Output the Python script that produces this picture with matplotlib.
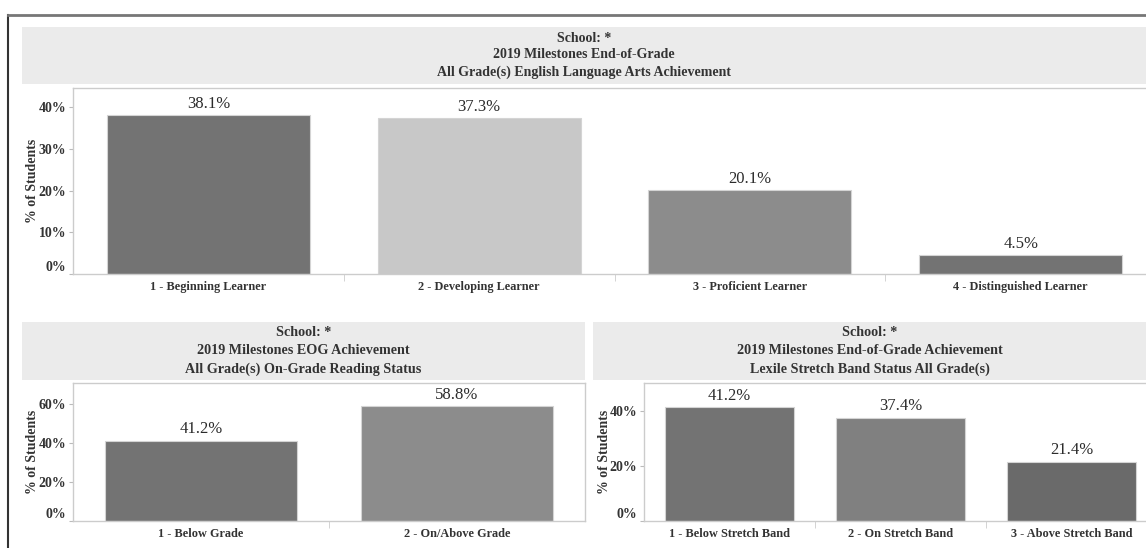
"""Recreate the 2019 Milestones achievement dashboard (three bar panels)."""

import matplotlib
matplotlib.use("Agg")
import matplotlib.pyplot as plt
import matplotlib.patches as patches
from matplotlib.ticker import FixedLocator

# ---- data ----
ela_levels = ["1 - Beginning Learner", "2 - Developing Learner",
              "3 - Proficient Learner", "4 - Distinguished Learner"]
ela_pct = [38.1, 37.3, 20.1, 4.5]
ela_colors = ["#737373", "#c8c8c8", "#8c8c8c", "#737373"]
ela_title = ["School: *", "2019 Milestones End-of-Grade",
             "All Grade(s) English Language Arts Achievement"]

reading_status = ["1 - Below Grade", "2 - On/Above Grade"]
reading_pct = [41.2, 58.8]
reading_colors = ["#737373", "#8c8c8c"]
reading_title = ["School: *", "2019 Milestones EOG Achievement",
                 "All Grade(s) On-Grade Reading Status"]

lexile_status = ["1 - Below Stretch Band", "2 - On Stretch Band", "3 - Above Stretch Band"]
lexile_pct = [41.2, 37.4, 21.4]
lexile_colors = ["#737373", "#808080", "#6a6a6a"]
lexile_title = ["School: *", "2019 Milestones End-of-Grade Achievement",
                "Lexile Stretch Band Status All Grade(s)"]

W, H = 1146, 548
FONT = "Liberation Serif"
plt.rcParams["font.family"] = [FONT, "DejaVu Serif"]

fig = plt.figure(figsize=(W / 100, H / 100), dpi=100)


def frac(left, top, right, bottom):
    """pixel box -> figure fraction [x, y, w, h]"""
    return [left / W, 1 - bottom / H, (right - left) / W, (bottom - top) / H]


def band(left, top, right, bottom, lines, size, y_lines):
    rect = patches.Rectangle((left / W, 1 - bottom / H), (right - left) / W,
                             (bottom - top) / H, transform=fig.transFigure,
                             facecolor="#ebebeb", edgecolor="none", zorder=0)
    fig.add_artist(rect)
    cx = (left + min(right, W)) / 2
    for txt, yy in zip(lines, y_lines):
        fig.text(cx / W, 1 - yy / H, txt, ha="center", va="center",
                 fontsize=size, fontweight="bold", color="#333333")


def panel(box, cats, vals, colors, ymax, ticks, xmax_frac, ylab_x):
    ax = fig.add_axes(frac(*box))
    n = len(cats)
    x = list(range(n))
    ax.bar(x, vals, width=0.75, color=colors, edgecolor="#d4d4d4", linewidth=0.8, zorder=2)
    for xi, v in zip(x, vals):
        ax.annotate(f"{v:.1f}%", (xi, v), xytext=(0, 2.5), textcoords="offset points",
                    ha="center", va="bottom", fontsize=12, color="#2b2b2b")
    ax.set_xlim(-0.5, n - 0.5 - xmax_frac)
    ax.set_ylim(0, ymax)
    ax.set_xticks(x)
    ax.set_xticklabels(cats, fontsize=8.8, fontweight="bold", color="#333333")
    ax.tick_params(axis="x", length=0, pad=5)
    ax.xaxis.set_minor_locator(FixedLocator([i + 0.5 for i in range(n - 1)]))
    ax.tick_params(axis="x", which="minor", length=5, color="#cccccc")
    ax.set_yticks(ticks)
    ax.set_yticklabels([f"{t}%" for t in ticks], fontsize=10, fontweight="bold", color="#333333")
    ax.get_yticklabels()[0].set_va("bottom")
    ax.tick_params(axis="y", length=3, color="#bbbbbb", pad=2)
    for s in ax.spines.values():
        s.set_color("#cccccc")
        s.set_linewidth(1.0)
    ax.spines["right"].set_visible(xmax_frac <= 0)
    fig.text(ylab_x / W, 1 - (box[1] + box[3]) / 2 / H, "% of Students", rotation=90,
             ha="center", va="center", fontsize=10, fontweight="bold", color="#333333")
    return ax


# top panel: ELA achievement
band(22, 27, W, 84, ela_title, 10, [38, 55, 72])
panel((73, 88, W, 274), ela_levels, ela_pct, ela_colors, 44.6, [0, 10, 20, 30, 40],
      (1156 - W) / 270, 32)

# bottom left: on-grade reading
band(22, 322, 585, 380, reading_title, 10.2, [333, 351, 369])
panel((73, 383, 585, 521), reading_status, reading_pct, reading_colors, 70.8, [0, 20, 40, 60],
      0, 32)

# bottom right: lexile stretch band
band(593, 322, W, 380, lexile_title, 10.2, [333, 351, 369])
panel((644, 383, W, 521), lexile_status, lexile_pct, lexile_colors, 50, [0, 20, 40],
      (1157 - W) / 171, 605)

# outer frame lines (left and top)
fig.add_artist(plt.Line2D([8 / W, 8 / W], [0, 1 - 15 / H], transform=fig.transFigure,
                          color="#333333", linewidth=1.5))
fig.add_artist(plt.Line2D([8 / W, 1], [1 - 15 / H, 1 - 15 / H], transform=fig.transFigure,
                          color="#777777", linewidth=2))

fig.savefig("out.png", dpi=100)
